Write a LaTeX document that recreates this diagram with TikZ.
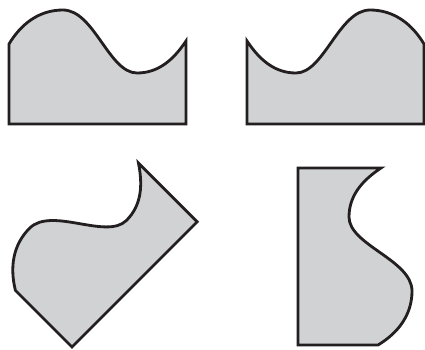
\documentclass[tikz,border=0pt]{standalone}
\usepackage{xcolor}
\usepackage{tikz}
\definecolor{shapefill}{HTML}{D1D2D4}
\definecolor{shapeline}{HTML}{231F20}
\newcommand{\waveoutline}{(0,0) -- (177,0) -- (177,83)
  .. controls (165,65) and (150,51) .. (128,51)
  .. controls (100,51) and (85,114) .. (54,114)
  .. controls (30,114) and (12,100) .. (0,80) -- cycle}

\begin{document}
\begin{tikzpicture}[
  x=0.02cm, y=0.02cm,
  piece/.style={draw=shapeline, fill=shapefill, line width=1.6pt, line join=miter}
]
  \useasboundingbox (0,0) rectangle (425,349);
  \draw[piece, shift={(9,225)}] \waveoutline;
  \draw[piece, shift={(424,225)}, xscale=-1] \waveoutline;
  \draw[piece, shift={(72,2)}, rotate=45] \waveoutline;
  \draw[piece, shift={(298,4)}, cm={0,1,1,0,(0,0)}] \waveoutline;
\end{tikzpicture}
\end{document}
